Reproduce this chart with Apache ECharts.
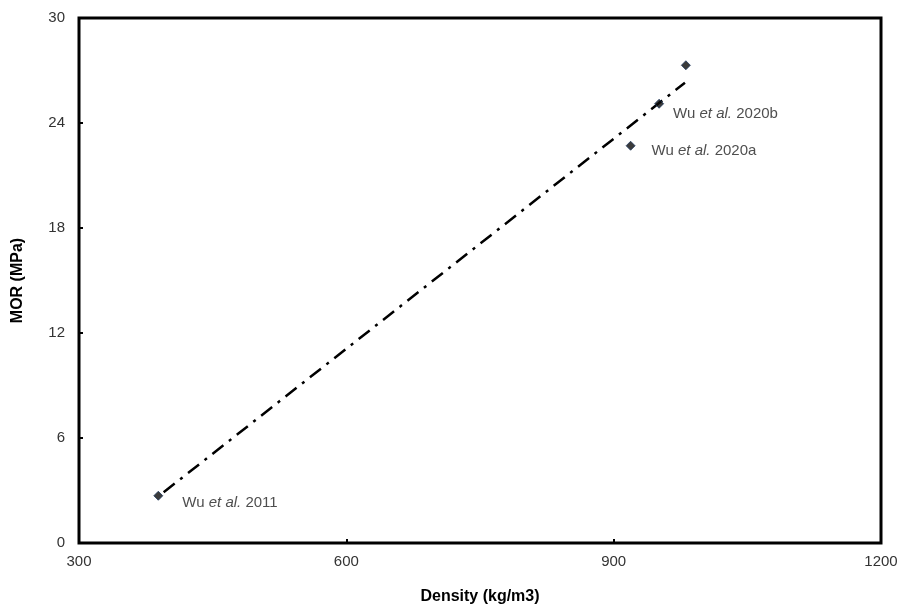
<!DOCTYPE html>
<html>
<head>
<meta charset="utf-8">
<script src="https://cdn.jsdelivr.net/npm/echarts@6/dist/echarts.min.js"></script>
<style>
  html, body { margin: 0; padding: 0; background: #fff; }
  #chart { width: 899px; height: 607px; }
</style>
</head>
<body>
<div id="chart"></div>
<script>
// density (kg/m3) and MOR (MPa)
const density = [389, 919, 951, 981];
const mor = [2.7, 22.7, 25.1, 27.3];
const sources = ['2011', '2020a', '2020b', ''];
// trendline end points as drawn
const trendX = [395, 980];
const trendY = [2.9, 26.3];

const xTicks = [300, 600, 900, 1200];
const yTicks = [0, 6, 12, 18, 24, 30];

// label offsets per point (px)
const labelOffsets = [[14, 7], [11, 5], [4, 10], [0, 0]];

const pts = density.map((d, i) => ({
  value: [d, mor[i]],
  label: {
    show: sources[i] !== '',
    position: 'right',
    offset: labelOffsets[i],
    formatter: '{n|Wu }{i|et al.}{n| ' + sources[i] + '}',
    rich: {
      n: { fontFamily: 'Liberation Sans, Arial', fontSize: 15, color: '#222' },
      i: { fontFamily: 'Liberation Sans, Arial', fontSize: 15, color: '#222', fontStyle: 'italic' }
    }
  }
}));

const chart = echarts.init(document.getElementById('chart'));
chart.setOption({
  animation: false,
  grid: {
    left: 79, right: 18, top: 18, bottom: 64,
    outerBoundsMode: 'none', containLabel: false,
    show: true, borderColor: '#000', borderWidth: 3, backgroundColor: '#fff'
  },
  xAxis: {
    type: 'value', min: xTicks[0], max: xTicks[xTicks.length - 1], interval: 300,
    name: 'Density (kg/m3)', nameLocation: 'middle', nameGap: 46,
    nameTextStyle: { fontFamily: 'Liberation Sans, Arial', fontWeight: 'bold', fontSize: 16, color: '#000' },
    axisLine: { show: false },
    axisTick: { show: true, inside: true, length: 4, lineStyle: { color: '#000', width: 2 } },
    axisLabel: { fontFamily: 'Liberation Sans, Arial', fontSize: 15, color: '#333', margin: 11, formatter: v => String(v) },
    splitLine: { show: false }
  },
  yAxis: {
    type: 'value', min: yTicks[0], max: yTicks[yTicks.length - 1], interval: 6,
    name: 'MOR (MPa)', nameLocation: 'middle', nameGap: 53,
    nameTextStyle: { fontFamily: 'Liberation Sans, Arial', fontWeight: 'bold', fontSize: 16, color: '#000' },
    axisLine: { show: false },
    axisTick: { show: true, inside: true, length: 4, lineStyle: { color: '#000', width: 2 } },
    axisLabel: { fontFamily: 'Liberation Sans, Arial', fontSize: 15, color: '#333', margin: 14 },
    splitLine: { show: false }
  },
  series: [
    {
      type: 'line',
      data: trendX.map((x, i) => [x, trendY[i]]),
      showSymbol: false,
      symbol: 'none',
      lineStyle: { color: '#000', width: 2.5, type: [14, 7, 3, 7] },
      z: 2
    },
    {
      type: 'scatter',
      data: pts,
      symbol: 'diamond',
      symbolSize: 9,
      itemStyle: { color: '#0a0a0a', borderColor: '#1f3a5f', borderWidth: 1 },
      z: 3
    }
  ]
});
</script>
</body>
</html>
